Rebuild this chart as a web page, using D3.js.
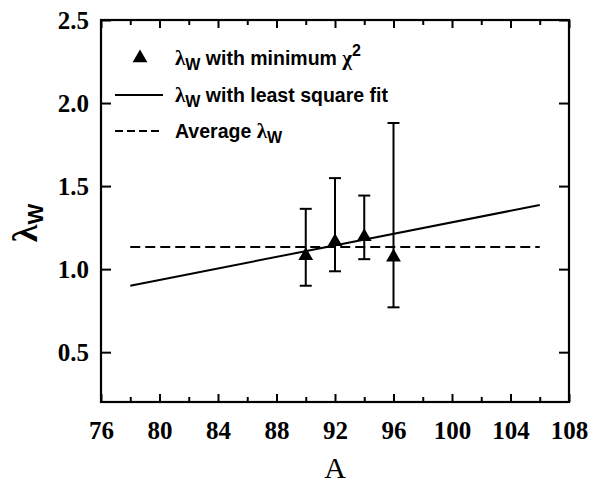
<!DOCTYPE html>
<html>
<head>
<meta charset="utf-8">
<script src="https://d3js.org/d3.v7.min.js"></script>
<style>
  body { margin: 0; background: #fff; }
</style>
</head>
<body>
<svg width="589" height="483"></svg>
<script>
// measured lambda_W for each mass number, with asymmetric error bars
var massA   = [90, 92, 94, 96];
var lambdaW = [1.08, 1.165, 1.195, 1.072];
var errLow  = [0.90, 0.987, 1.06, 0.77];
var errHigh = [1.363, 1.548, 1.443, 1.88];

// least square fit and the average value
var fitA   = [78, 106];
var fitVal = [0.90, 1.386];
var avgA   = [78, 106];
var avgVal = [1.133, 1.133];

var xMajor = [76, 80, 84, 88, 92, 96, 100, 104, 108];
var xMinor = [78, 82, 86, 90, 94, 98, 102, 106];
var yMajor = [0.5, 1.0, 1.5, 2.0, 2.5];

var serif = "'Liberation Serif', 'Times New Roman', serif";
var sans = "'Liberation Sans', Arial, sans-serif";

var svg = d3.select("svg");

var x = d3.scaleLinear().domain([76, 108]).range([101, 569]);
var y = d3.scaleLinear().domain([0.2, 2.5]).range([402, 20]);

// frame
svg.append("rect")
    .attr("x", x(76)).attr("y", y(2.5))
    .attr("width", x(108) - x(76)).attr("height", y(0.2) - y(2.5))
    .attr("fill", "none").attr("stroke", "#000").attr("stroke-width", 2.2);

function styleAxis(g) {
  g.select(".domain").remove();
  g.selectAll(".tick line").attr("stroke", "#000").attr("stroke-width", 2);
  g.selectAll(".tick text")
      .attr("font-family", serif).attr("font-weight", "bold")
      .attr("font-size", 25).attr("fill", "#000");
}

// bottom axis (labels + major ticks inward)
svg.append("g")
    .attr("transform", "translate(0," + y(0.2) + ")")
    .call(d3.axisBottom(x).tickValues(xMajor).tickSize(-8).tickPadding(19).tickFormat(d3.format("d")))
    .call(styleAxis);

svg.append("g")
    .attr("transform", "translate(0," + y(0.2) + ")")
    .call(d3.axisBottom(x).tickValues(xMinor).tickSize(-5).tickFormat(""))
    .call(styleAxis);

// top axis
svg.append("g")
    .attr("transform", "translate(0," + y(2.5) + ")")
    .call(d3.axisTop(x).tickValues(xMajor).tickSize(-8).tickFormat(""))
    .call(styleAxis);
svg.append("g")
    .attr("transform", "translate(0," + y(2.5) + ")")
    .call(d3.axisTop(x).tickValues(xMinor).tickSize(-5).tickFormat(""))
    .call(styleAxis);

// left axis
svg.append("g")
    .attr("transform", "translate(" + x(76) + ",0)")
    .call(d3.axisLeft(y).tickValues(yMajor).tickSize(-10).tickPadding(12).tickFormat(d3.format(".1f")))
    .call(styleAxis);

// right axis
svg.append("g")
    .attr("transform", "translate(" + x(108) + ",0)")
    .call(d3.axisRight(y).tickValues(yMajor).tickSize(-10).tickFormat(""))
    .call(styleAxis);

// axis titles
svg.append("text")
    .attr("x", x(92)).attr("y", 478)
    .attr("text-anchor", "middle")
    .attr("font-family", serif)
    .attr("font-size", 30)
    .text("A");

var ylab = svg.append("text")
    .attr("transform", "translate(37,223) rotate(-90)")
    .attr("text-anchor", "middle")
    .attr("font-family", serif)
    .attr("font-weight", "bold")
    .attr("font-size", 36);
ylab.append("tspan").text("λ");
ylab.append("tspan").attr("dy", 6)
    .attr("font-family", sans)
    .attr("font-weight", "bold").attr("font-size", 22).text("W");

// lines
var line = d3.line().x(function(d) { return x(d[0]); }).y(function(d) { return y(d[1]); });

svg.append("path")
    .datum(d3.zip(fitA, fitVal))
    .attr("d", line)
    .attr("fill", "none").attr("stroke", "#000").attr("stroke-width", 2);

svg.append("path")
    .datum(d3.zip(avgA, avgVal))
    .attr("d", line)
    .attr("fill", "none").attr("stroke", "#000").attr("stroke-width", 2)
    .attr("stroke-dasharray", "10,5");

// error bars
var pts = massA.map(function(a, i) {
  return {a: a, v: lambdaW[i], lo: errLow[i], hi: errHigh[i]};
});

var eb = svg.append("g").attr("stroke", "#000").attr("stroke-width", 2);
eb.selectAll(".bar").data(pts).enter().append("line")
    .attr("x1", function(d) { return x(d.a); }).attr("x2", function(d) { return x(d.a); })
    .attr("y1", function(d) { return y(d.lo); }).attr("y2", function(d) { return y(d.hi); });
eb.selectAll(".capHi").data(pts).enter().append("line")
    .attr("x1", function(d) { return x(d.a) - 6; }).attr("x2", function(d) { return x(d.a) + 6; })
    .attr("y1", function(d) { return y(d.hi); }).attr("y2", function(d) { return y(d.hi); });
eb.selectAll(".capLo").data(pts).enter().append("line")
    .attr("x1", function(d) { return x(d.a) - 6; }).attr("x2", function(d) { return x(d.a) + 6; })
    .attr("y1", function(d) { return y(d.lo); }).attr("y2", function(d) { return y(d.lo); });

var tri = d3.symbol().type(d3.symbolTriangle).size(95);
svg.selectAll(".pt").data(pts).enter().append("path")
    .attr("d", tri)
    .attr("transform", function(d) { return "translate(" + x(d.a) + "," + y(d.v) + ")"; })
    .attr("fill", "#000");

// legend
var leg = svg.append("g");
var rows = [58, 95, 131];

leg.append("path").attr("d", tri).attr("transform", "translate(140," + rows[0] + ")").attr("fill", "#000");
leg.append("line").attr("x1", 115).attr("x2", 163).attr("y1", rows[1]).attr("y2", rows[1])
    .attr("stroke", "#000").attr("stroke-width", 2);
leg.append("line").attr("x1", 115).attr("x2", 163).attr("y1", rows[2]).attr("y2", rows[2])
    .attr("stroke", "#000").attr("stroke-width", 2).attr("stroke-dasharray", "8,4");

var labels = [
  [["λ", "lam"], ["W", "sub"], [" with minimum ", "txt"], ["χ", "chi"], ["2", "sup"]],
  [["λ", "lam"], ["W", "sub"], [" with least square fit", "txt"]],
  [["Average ", "txt"], ["λ", "lam"], ["W", "sub"]]
];

labels.forEach(function(parts, i) {
  var t = leg.append("text").attr("x", 175).attr("y", rows[i] + 7)
      .attr("font-family", sans).attr("font-weight", "bold").attr("font-size", 19.5);
  var shift = 0;
  parts.forEach(function(p) {
    var s = t.append("tspan").text(p[0]);
    var want = 0;
    if (p[1] === "lam" || p[1] === "chi") {
      s.attr("font-family", serif).attr("font-size", 21);
    }
    if (p[1] === "sub") { want = 5; s.attr("font-size", 16); }
    if (p[1] === "sup") { want = -9; s.attr("font-size", 16); }
    s.attr("dy", want - shift);
    shift = want;
  });
});
</script>
</body>
</html>
